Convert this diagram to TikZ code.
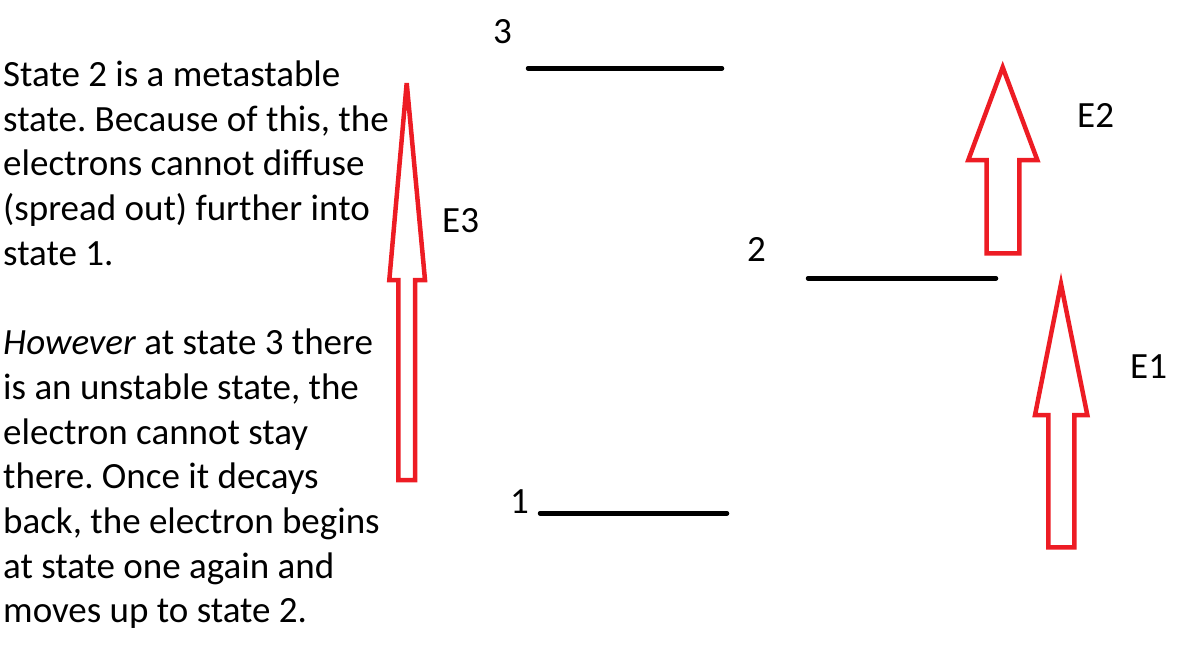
\documentclass[tikz,border=0pt]{standalone}
\usepackage{fontspec}
\setmainfont{Carlito}
\frenchspacing
\begin{document}
\begin{tikzpicture}[x=1pt,y=-1pt,
  txt/.style={anchor=base west,inner sep=0pt,font=\fontsize{37}{44}\selectfont},
  level/.style={line width=4.5pt,line cap=round,black},
  blockarrow/.style={draw={rgb,255:red,237;green,28;blue,36},line width=4.5pt,line join=miter}]
\useasboundingbox (0,0) rectangle (1182,648);
% text block
\foreach \t [count=\i from 0] in {State 2 is a metastable,{state. Because of this, the},electrons cannot diffuse,(spread out) further into,state 1.,,{\textit{However} at state 3 there},{is an unstable state, the},electron cannot stay,there. Once it decays,{back, the electron begins},at state one again and,moves up to state 2.}{
  \node[txt] (line\i) at (3,{86.5+44.7*\i}) {\t};
}
% energy levels
\coordinate (l3a) at (528,68.3); \coordinate (l3b) at (722,68.3);
\coordinate (l2a) at (808,278.3); \coordinate (l2b) at (996,278.3);
\coordinate (l1a) at (540,513.3); \coordinate (l1b) at (727,513.3);
\draw[level] (l3a) -- (l3b);
\draw[level] (l2a) -- (l2b);
\draw[level] (l1a) -- (l1b);
\node[txt] (n3) at (493,43) {3};
\node[txt] (n2) at (747,261) {2};
\node[txt] (n1) at (510,513) {1};
% arrows
\draw[blockarrow] (406.7,83) -- (425,280) -- (415,280) -- (415,480) -- (398.3,480) -- (398.3,280) -- (389.3,280) -- cycle;
\draw[blockarrow] (1002.7,67.3) -- (1037.3,160) -- (1019.3,160) -- (1019.3,253.3) -- (986.7,253.3) -- (986.7,160) -- (968.3,160) -- cycle;
\draw[blockarrow] (1061,284) -- (1087.3,415) -- (1074.3,415) -- (1074.3,547.3) -- (1048.3,547.3) -- (1048.3,415) -- (1035,415) -- cycle;
\node[txt] (e3) at (442,232) {E3};
\node[txt] (e2) at (1077,127) {E2};
\node[txt] (e1) at (1130,378) {E1};
\end{tikzpicture}
\end{document}
